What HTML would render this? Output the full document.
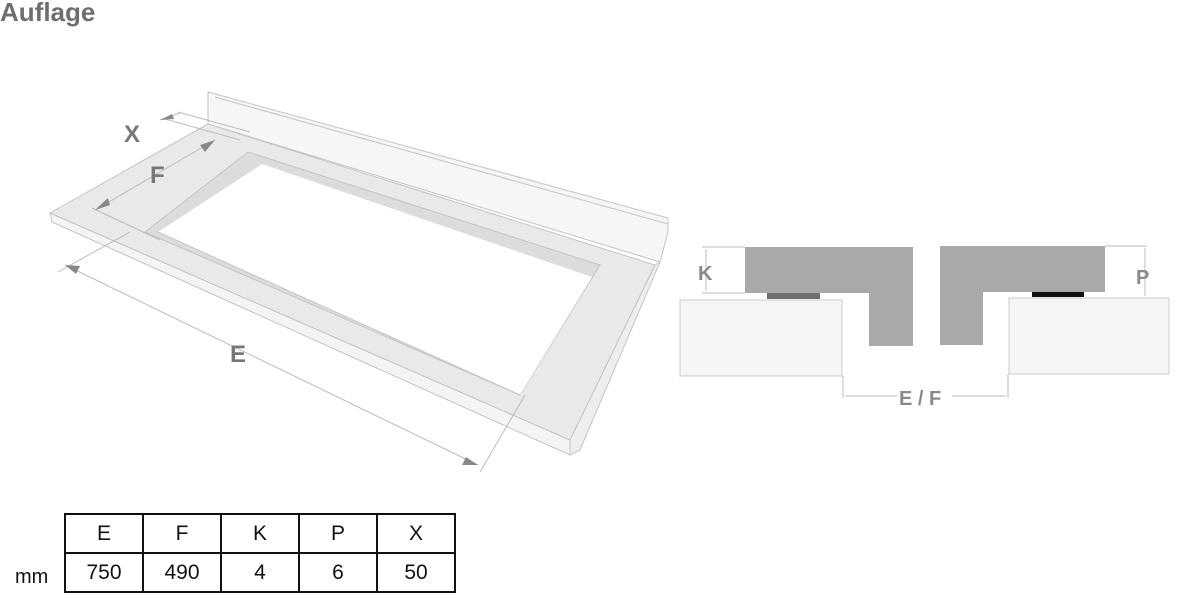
<!DOCTYPE html>
<html><head><meta charset="utf-8"><style>
body{margin:0;background:#fff;width:1200px;height:595px;overflow:hidden;font-family:"Liberation Sans",sans-serif;position:relative}
.t{position:absolute;left:0;top:-3px;font-size:26px;font-weight:bold;color:#6e6e6e}
table{position:absolute;left:64px;top:513px;border-collapse:collapse}
td{border:2px solid #111;width:76px;height:37px;text-align:center;font-size:21px;color:#111;padding:0}
.mm{position:absolute;left:15px;top:566px;font-size:20px;color:#111}
</style></head><body>
<div class="t">Auflage</div>
<svg width="1200" height="595" style="position:absolute;left:0;top:0">
<g stroke="#c4c4c4" stroke-width="1">
<polygon points="208,92 668,218 668,232 660,262 208,124" fill="#f6f6f6"/>
<line x1="215" y1="97" x2="668" y2="224"/>
<polygon points="50,213 570,440 570,455 52,222" fill="#f4f4f4"/>
<polygon points="570,440 655,265 660,262 580,450 570,455" fill="#eeeeee"/>
<polygon points="50,213 208,124 655,265 570,440" fill="#e9e9e9"/>
<polygon points="145,232 248,152 600,265 520,395" fill="#dcdcdc"/>
<polygon points="158,232 262,164 592,277 520,395" fill="#fff" stroke="none"/>
<line x1="158" y1="232" x2="520" y2="395"/>
</g>
<g stroke="#bbb" stroke-width="1" fill="none">
<line x1="160" y1="120" x2="180" y2="113"/>
<line x1="165" y1="119" x2="240" y2="140"/>
<line x1="178" y1="112" x2="250" y2="132"/>
<line x1="95" y1="210" x2="215" y2="140"/>
<line x1="92" y1="208" x2="160" y2="240"/>
<line x1="65" y1="265" x2="478" y2="465"/>
<line x1="58" y1="272" x2="130" y2="232"/>
<line x1="480" y1="472" x2="525" y2="395"/>
</g>
<g fill="#888">
<polygon points="95,210 108,198 110,205"/>
<polygon points="215,140 200,145 205,152"/>
<polygon points="65,265 80,266 76,274"/>
<polygon points="478,465 462,465 466,457"/>
<polygon points="160,120 172,114 174,119"/>
</g>
<g font-family="Liberation Sans" font-weight="bold" fill="#777" font-size="24">
<text x="124" y="142">X</text><text x="150" y="183">F</text><text x="230" y="362">E</text>
</g>
<g>
<rect x="680" y="300" width="162" height="76" fill="#f5f5f5" stroke="#ccc"/>
<rect x="1009" y="298" width="160" height="76" fill="#f5f5f5" stroke="#ccc"/>
<polygon points="745,247 913,247 913,346 869,346 869,293 745,293" fill="#a9a9a9"/>
<polygon points="940,246 1105,246 1105,292 983,292 983,345 940,345" fill="#a9a9a9"/>
<rect x="767" y="293" width="53" height="6" fill="#6f6f6f"/>
<rect x="1032" y="292" width="52" height="5" fill="#111"/>
<g stroke="#bbb">
<line x1="702" y1="247" x2="745" y2="247"/><line x1="702" y1="293" x2="745" y2="293"/>
<line x1="706" y1="249" x2="706" y2="291"/>
<line x1="1105" y1="246" x2="1147" y2="246"/>
<line x1="1145" y1="248" x2="1145" y2="296"/>
<line x1="843" y1="376" x2="843" y2="398"/><line x1="1008" y1="374" x2="1008" y2="398"/>
<line x1="845" y1="396" x2="897" y2="396"/><line x1="952" y1="396" x2="1006" y2="396"/>
</g>
<g font-family="Liberation Sans" font-weight="bold" fill="#8a8a8a" font-size="20">
<text x="698" y="280">K</text><text x="1136" y="284">P</text><text x="899" y="405">E / F</text>
</g>
</g>
</svg>
<table><tr><td>E</td><td>F</td><td>K</td><td>P</td><td>X</td></tr>
<tr><td>750</td><td>490</td><td>4</td><td>6</td><td>50</td></tr></table>
<div class="mm">mm</div>
</body></html>
